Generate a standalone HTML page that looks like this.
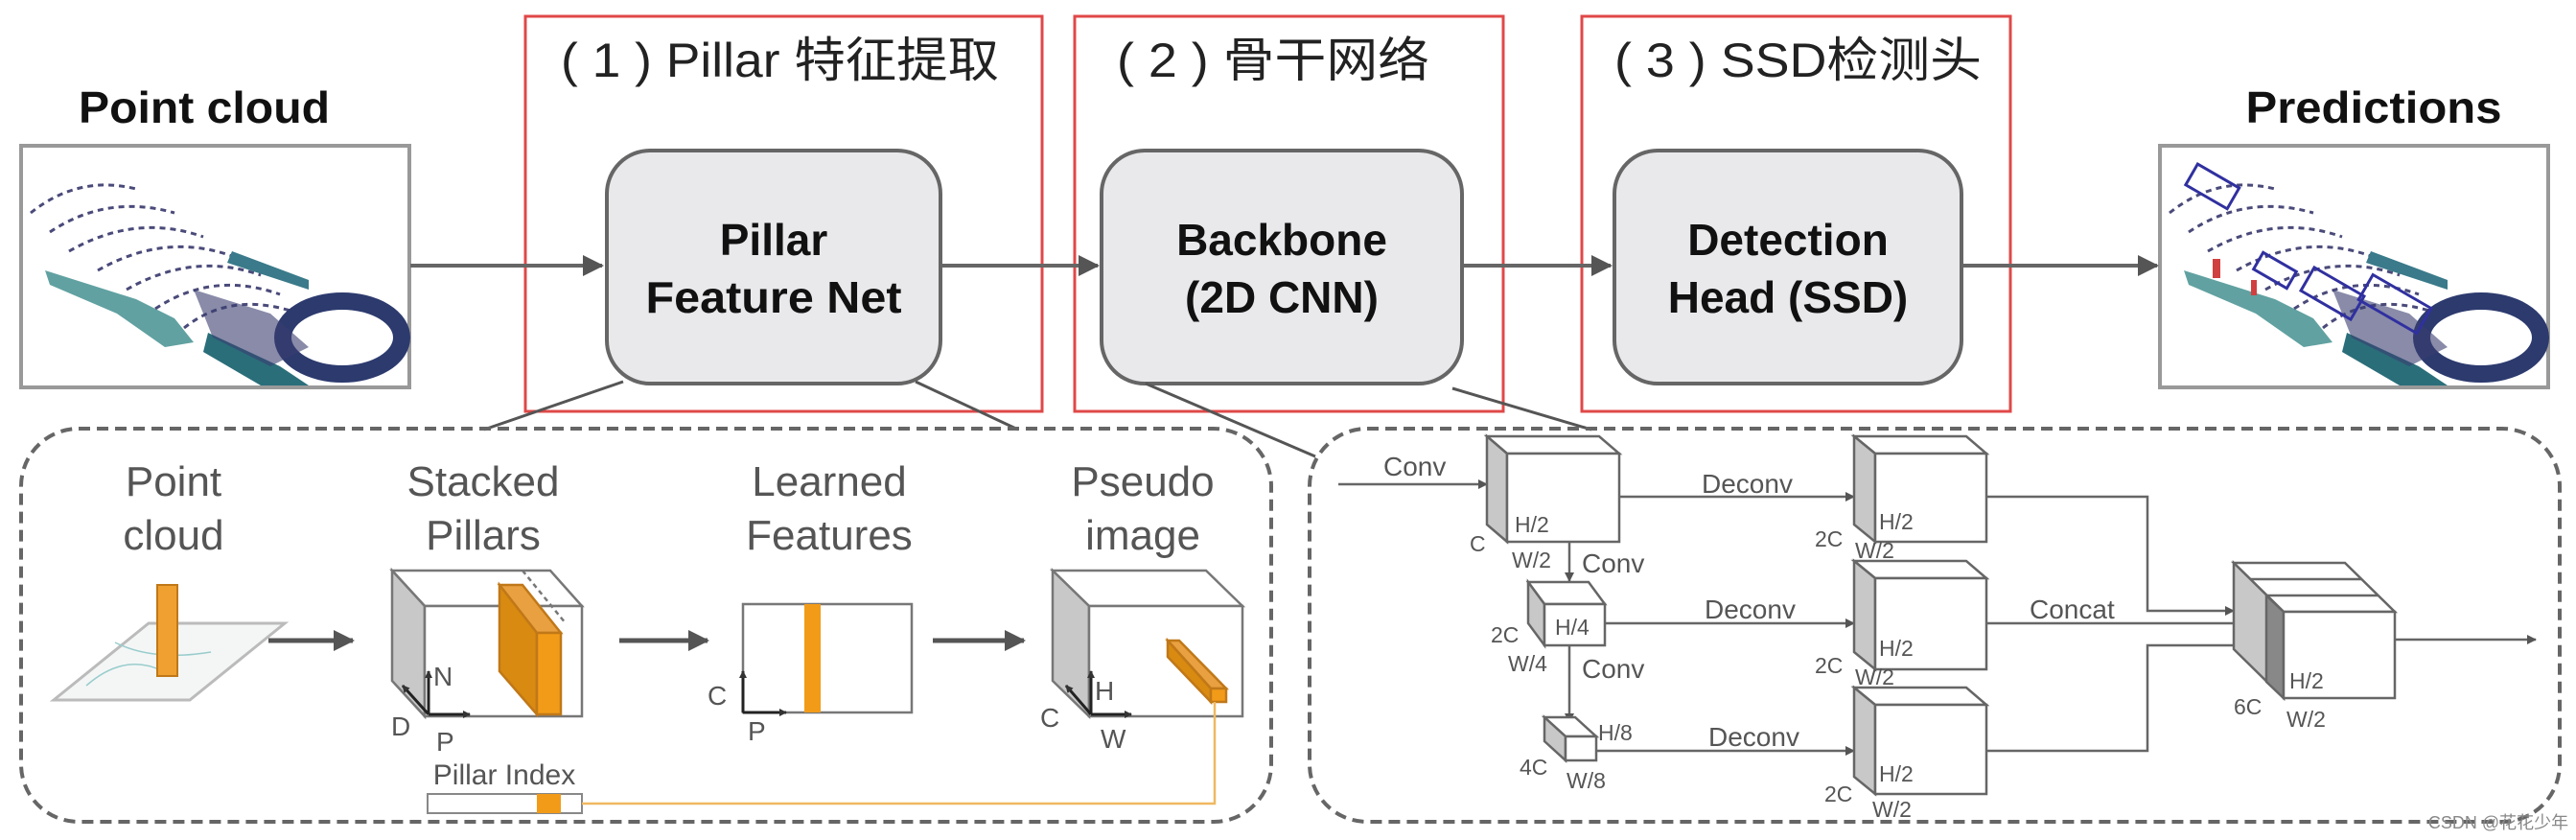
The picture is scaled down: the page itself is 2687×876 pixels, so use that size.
<!DOCTYPE html>
<html><head><meta charset="utf-8"><style>
html,body{margin:0;padding:0;background:#fff;width:2687px;height:876px;overflow:hidden}
svg{display:block}
text{font-family:"Liberation Sans","Noto Sans CJK SC",sans-serif}
</style></head><body>
<svg width="2687" height="876" viewBox="0 0 2687 876" xmlns="http://www.w3.org/2000/svg">
<defs>
<marker id="ah" markerWidth="10" markerHeight="10" refX="9" refY="5" orient="auto" markerUnits="userSpaceOnUse"><path d="M0,0 L10,5 L0,10 z" fill="#555"/></marker>
<marker id="ah2" markerWidth="22" markerHeight="22" refX="20" refY="11" orient="auto" markerUnits="userSpaceOnUse"><path d="M0,0 L22,11 L0,22 z" fill="#555"/></marker>
<marker id="as" markerWidth="8" markerHeight="8" refX="7" refY="4" orient="auto" markerUnits="userSpaceOnUse"><path d="M0,0 L8,4 L0,8 z" fill="#333"/></marker>
<g id="pc">
 <rect x="0" y="0" width="405" height="252" fill="#fff" stroke="#999" stroke-width="4"/>
 <g fill="none" stroke="#4a4a7a" stroke-width="3" stroke-dasharray="6 5">
  <path d="M10,70 Q60,30 120,45"/><path d="M30,90 Q90,50 160,70"/><path d="M50,110 Q120,70 190,95"/>
  <path d="M80,130 Q150,90 220,115"/><path d="M110,150 Q180,110 250,135"/><path d="M140,170 Q200,130 270,155"/>
  <path d="M170,190 Q220,150 290,175"/>
 </g>
 <path d="M25,130 L120,160 L160,180 L180,205 L150,210 L100,175 L30,145z" fill="#3a8a8a" opacity="0.8"/>
 <path d="M195,195 L270,230 L300,250 L250,250 L190,215z" fill="#2a6e7a"/>
 <path d="M220,110 L300,140 L300,150 L215,122z" fill="#3a7a8a"/>
 <ellipse cx="335" cy="200" rx="62" ry="38" fill="none" stroke="#2c3a6e" stroke-width="18"/>
 <path d="M180,150 L260,175 L300,210 L260,230 L200,200z" fill="#3b3e70" opacity="0.6"/>
</g>
</defs>

<text x="213" y="128" font-size="46" font-weight="bold" text-anchor="middle" fill="#111" textLength="262" lengthAdjust="spacingAndGlyphs">Point cloud</text>
<use href="#pc" x="22" y="152"/>

<text x="2476" y="128" font-size="46" font-weight="bold" text-anchor="middle" fill="#111" textLength="267" lengthAdjust="spacingAndGlyphs">Predictions</text>
<g transform="translate(2253,152)">
 <use href="#pc" x="0" y="0"/>
 <g fill="none" stroke="#3030a0" stroke-width="3">
  <rect x="30" y="30" width="50" height="25" transform="rotate(30 55 42)"/>
  <rect x="150" y="140" width="60" height="28" transform="rotate(30 180 154)"/>
  <rect x="210" y="150" width="70" height="30" transform="rotate(30 245 165)"/>
  <rect x="100" y="120" width="40" height="20" transform="rotate(30 120 130)"/>
 </g>
 <rect x="55" y="118" width="8" height="20" fill="#d04040"/>
 <rect x="95" y="140" width="6" height="16" fill="#d04040"/>
</g>

<rect x="548" y="17" width="539" height="412" fill="none" stroke="#e04848" stroke-width="3"/>
<rect x="1121" y="17" width="447" height="412" fill="none" stroke="#e04848" stroke-width="3"/>
<rect x="1650" y="17" width="447" height="412" fill="none" stroke="#e04848" stroke-width="3"/>
<text x="585" y="80" font-size="50" fill="#222" textLength="457" lengthAdjust="spacingAndGlyphs">( 1 ) Pillar 特征提取</text>
<text x="1165" y="80" font-size="50" fill="#222" textLength="326" lengthAdjust="spacingAndGlyphs">( 2 ) 骨干网络</text>
<text x="1684" y="80" font-size="50" fill="#222" textLength="383" lengthAdjust="spacingAndGlyphs">( 3 ) SSD检测头</text>

<g stroke="#666" stroke-width="4" fill="none">
 <line x1="428" y1="277" x2="628" y2="277" marker-end="url(#ah2)"/>
 <line x1="983" y1="277" x2="1145" y2="277" marker-end="url(#ah2)"/>
 <line x1="1527" y1="277" x2="1680" y2="277" marker-end="url(#ah2)"/>
 <line x1="2048" y1="277" x2="2250" y2="277" marker-end="url(#ah2)"/>
</g>

<g fill="#e9e9ec" stroke="#666" stroke-width="4">
 <rect x="633" y="157" width="348" height="243" rx="45"/>
 <rect x="1149" y="157" width="376" height="243" rx="45"/>
 <rect x="1684" y="157" width="362" height="243" rx="45"/>
</g>
<g font-size="46" font-weight="bold" text-anchor="middle" fill="#111">
 <text x="807" y="266">Pillar</text><text x="807" y="326" textLength="267" lengthAdjust="spacingAndGlyphs">Feature Net</text>
 <text x="1337" y="266">Backbone</text><text x="1337" y="326">(2D CNN)</text>
 <text x="1865" y="266">Detection</text><text x="1865" y="326">Head (SSD)</text>
</g>

<g stroke="#555" stroke-width="3">
 <line x1="650" y1="398" x2="505" y2="448"/>
 <line x1="955" y1="398" x2="1062" y2="448"/>
 <line x1="1195" y1="400" x2="1372" y2="476"/>
 <line x1="1515" y1="405" x2="1660" y2="448"/>
</g>

<g fill="none" stroke="#666" stroke-width="4" stroke-dasharray="12 7">
 <rect x="22" y="447" width="1304" height="410" rx="60"/>
 <rect x="1366" y="447" width="1304" height="410" rx="60"/>
</g>

<g font-size="44" text-anchor="middle" fill="#555">
 <text x="181" y="517">Point</text><text x="181" y="573">cloud</text>
 <text x="504" y="517">Stacked</text><text x="504" y="573">Pillars</text>
 <text x="865" y="517">Learned</text><text x="865" y="573">Features</text>
 <text x="1192" y="517">Pseudo</text><text x="1192" y="573">image</text>
</g>
<polygon points="56,730 155,650 297,650 198,730" fill="#f4f6f6" stroke="#bbb" stroke-width="3"/>
<path d="M90,715 Q130,680 170,700 M120,670 Q160,690 220,680" stroke="#9cc" stroke-width="1.5" fill="none"/>
<rect x="164" y="610" width="21" height="95" fill="#f0a030" stroke="#c07818" stroke-width="2"/>
<g stroke="#555" stroke-width="5" fill="none">
 <line x1="280" y1="668" x2="368" y2="668" marker-end="url(#ah2)"/>
 <line x1="646" y1="668" x2="738" y2="668" marker-end="url(#ah2)"/>
 <line x1="973" y1="668" x2="1068" y2="668" marker-end="url(#ah2)"/>
</g>
<g stroke="#777" stroke-width="2.5">
 <polygon points="409,595 574,595 607,632 443,632" fill="#fff"/>
 <polygon points="409,595 443,632 443,747 409,710" fill="#c8c8c8"/>
 <rect x="443" y="632" width="164" height="115" fill="#fff"/>
 <polygon points="521,610 545,610 585,660 560,660" fill="#e8a040" stroke="#c07818"/>
 <polygon points="521,610 560,660 560,745 521,700" fill="#d98a10" stroke="#c07818"/>
 <rect x="560" y="660" width="25" height="85" fill="#f29b18" stroke="#c07818"/>
 <line x1="545" y1="595" x2="590" y2="650" stroke-dasharray="5 4"/>
</g>
<g stroke="#222" stroke-width="3" fill="none">
 <line x1="447" y1="745" x2="447" y2="700" marker-end="url(#as)"/>
 <line x1="447" y1="745" x2="490" y2="745" marker-end="url(#as)"/>
 <line x1="447" y1="745" x2="420" y2="715" marker-end="url(#as)"/>
</g>
<g font-size="28" fill="#555">
 <text x="408" y="767">D</text><text x="452" y="715">N</text><text x="455" y="783">P</text>
</g>
<rect x="775" y="630" width="176" height="113" fill="#fff" stroke="#777" stroke-width="2.5"/>
<rect x="839" y="630" width="17" height="113" fill="#f29b18"/>
<g stroke="#222" stroke-width="3" fill="none">
 <line x1="775" y1="743" x2="775" y2="700" marker-end="url(#as)"/>
 <line x1="775" y1="743" x2="820" y2="743" marker-end="url(#as)"/>
</g>
<g font-size="28" fill="#555"><text x="738" y="735">C</text><text x="780" y="772">P</text></g>
<g stroke="#777" stroke-width="2.5">
 <polygon points="1098,595 1258,595 1296,632 1136,632" fill="#fff"/>
 <polygon points="1098,595 1136,632 1136,747 1098,710" fill="#c8c8c8"/>
 <rect x="1136" y="632" width="160" height="115" fill="#fff"/>
 <polygon points="1218,668 1230,668 1279,718 1263,718" fill="#e8a040" stroke="#c07818"/>
 <polygon points="1218,668 1263,718 1263,732 1218,685" fill="#d98a10" stroke="#c07818"/>
 <rect x="1263" y="718" width="16" height="14" fill="#f29b18" stroke="#c07818"/>
</g>
<g stroke="#222" stroke-width="3" fill="none">
 <line x1="1138" y1="745" x2="1138" y2="700" marker-end="url(#as)"/>
 <line x1="1138" y1="745" x2="1180" y2="745" marker-end="url(#as)"/>
 <line x1="1138" y1="745" x2="1112" y2="715" marker-end="url(#as)"/>
</g>
<g font-size="28" fill="#555"><text x="1085" y="758">C</text><text x="1142" y="730">H</text><text x="1148" y="780">W</text></g>
<text x="526" y="818" font-size="30" text-anchor="middle" fill="#555">Pillar Index</text>
<rect x="446" y="828" width="161" height="20" fill="#fff" stroke="#888" stroke-width="2"/>
<rect x="560" y="828" width="25" height="20" fill="#f29b18"/>
<polyline points="607,838 1267,838 1267,732" fill="none" stroke="#f0b860" stroke-width="2.5"/>

<g stroke="#666" stroke-width="2.5" fill="none">
 <line x1="1396" y1="505" x2="1551" y2="505" marker-end="url(#ah)"/>
 <line x1="1637" y1="565" x2="1637" y2="606" marker-end="url(#ah)"/>
 <line x1="1637" y1="673" x2="1637" y2="753" marker-end="url(#ah)"/>
 <line x1="1689" y1="518" x2="1934" y2="518" marker-end="url(#ah)"/>
 <line x1="1674" y1="650" x2="1934" y2="650" marker-end="url(#ah)"/>
 <line x1="1665" y1="783" x2="1934" y2="783" marker-end="url(#ah)"/>
 <polyline points="2072,518 2240,518 2240,637 2330,637" marker-end="url(#ah)"/>
 <line x1="2072" y1="650" x2="2340" y2="650" marker-end="url(#ah)"/>
 <polyline points="2072,783 2240,783 2240,673 2350,673" marker-end="url(#ah)"/>
 <line x1="2498" y1="667" x2="2645" y2="667" marker-end="url(#ah)"/>
</g>
<g stroke="#666" stroke-width="2.5">
 <polygon points="1551,455 1668,455 1689,473 1572,473" fill="#fff"/>
 <polygon points="1551,455 1572,473 1572,565 1551,547" fill="#c8c8c8"/>
 <rect x="1572" y="473" width="117" height="92" fill="#fff"/>
 <polygon points="1594,607 1657,607 1674,630 1611,630" fill="#fff"/>
 <polygon points="1594,607 1611,630 1611,673 1594,650" fill="#c8c8c8"/>
 <rect x="1611" y="630" width="63" height="43" fill="#fff"/>
 <polygon points="1611,748 1643,748 1665,768 1633,768" fill="#fff"/>
 <polygon points="1611,748 1633,768 1633,793 1611,773" fill="#c8c8c8"/>
 <rect x="1633" y="768" width="32" height="25" fill="#fff"/>
 <polygon points="1934,455 2051,455 2072,473 1956,473" fill="#fff"/>
 <polygon points="1934,455 1956,473 1956,565 1934,547" fill="#c8c8c8"/>
 <rect x="1956" y="473" width="116" height="92" fill="#fff"/>
 <polygon points="1934,585 2051,585 2072,603 1956,603" fill="#fff"/>
 <polygon points="1934,585 1956,603 1956,698 1934,680" fill="#c8c8c8"/>
 <rect x="1956" y="603" width="116" height="95" fill="#fff"/>
 <polygon points="1934,717 2051,717 2072,735 1956,735" fill="#fff"/>
 <polygon points="1934,717 1956,735 1956,828 1934,810" fill="#c8c8c8"/>
 <rect x="1956" y="735" width="116" height="93" fill="#fff"/>
 <polygon points="2330,587 2446,587 2498,638 2382,638" fill="#fff"/>
 <line x1="2347" y1="604" x2="2463" y2="604"/><line x1="2364" y1="621" x2="2480" y2="621"/>
 <polygon points="2330,587 2382,638 2382,728 2330,677" fill="#c8c8c8"/>
 <polygon points="2364,621 2382,638 2382,728 2364,711" fill="#888"/>
 <rect x="2382" y="638" width="116" height="90" fill="#fff"/>
</g>
<g font-size="28" fill="#555">
 <text x="1443" y="496">Conv</text>
 <text x="1650" y="597">Conv</text>
 <text x="1650" y="707">Conv</text>
 <text x="1775" y="514">Deconv</text>
 <text x="1778" y="645">Deconv</text>
 <text x="1782" y="778">Deconv</text>
 <text x="2117" y="645">Concat</text>
</g>
<g font-size="23" fill="#555">
 <text x="1580" y="555">H/2</text><text x="1533" y="575">C</text><text x="1577" y="592">W/2</text>
 <text x="1622" y="662">H/4</text><text x="1555" y="670">2C</text><text x="1573" y="700">W/4</text>
 <text x="1667" y="772">H/8</text><text x="1585" y="808">4C</text><text x="1634" y="822">W/8</text>
 <text x="1960" y="552">H/2</text><text x="1893" y="570">2C</text><text x="1935" y="582">W/2</text>
 <text x="1960" y="684">H/2</text><text x="1893" y="702">2C</text><text x="1935" y="714">W/2</text>
 <text x="1960" y="815">H/2</text><text x="1903" y="836">2C</text><text x="1953" y="852">W/2</text>
 <text x="2388" y="718">H/2</text><text x="2330" y="745">6C</text><text x="2385" y="758">W/2</text>
</g>
<text x="2606" y="864" font-size="18" text-anchor="middle" fill="#888">CSDN @花花少年</text>
</svg>
</body></html>
